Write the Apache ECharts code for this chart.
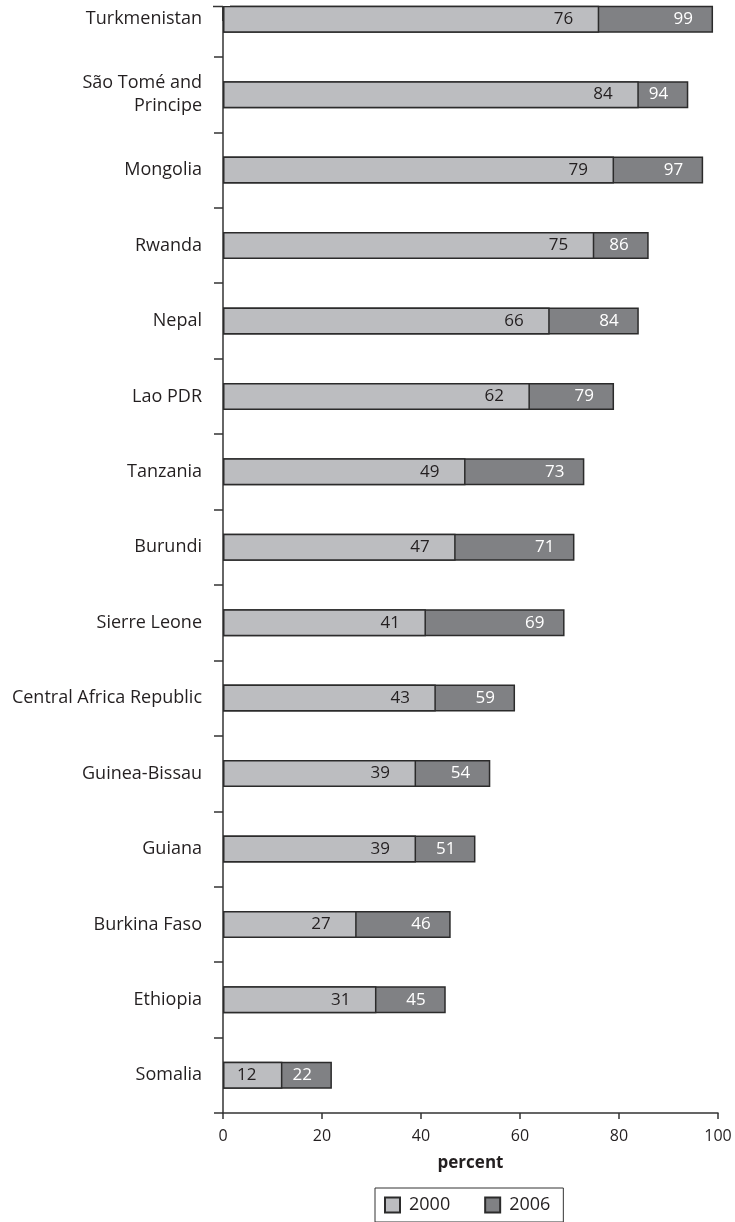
<!DOCTYPE html>
<html>
<head>
<meta charset="utf-8">
<script src="https://cdn.jsdelivr.net/npm/echarts@6/dist/echarts.min.js"></script>
<style>
html,body{margin:0;padding:0;background:#fff;overflow:hidden;width:735px;height:1222px;position:relative;}
#chart{position:absolute;left:0;top:-19px;width:735px;height:1241px;}
</style>
</head>
<body>
<div id="chart"></div>
<script>
const categories = ["Turkmenistan", "São Tomé and\nPrincipe", "Mongolia", "Rwanda", "Nepal", "Lao PDR", "Tanzania", "Burundi", "Sierre Leone", "Central Africa Republic", "Guinea-Bissau", "Guiana", "Burkina Faso", "Ethiopia", "Somalia"];
const values2000 = [76, 84, 79, 75, 66, 62, 49, 47, 41, 43, 39, 39, 27, 31, 12];
const values2006 = [99, 94, 97, 86, 84, 79, 73, 71, 69, 59, 54, 51, 46, 45, 22];
const xTicks = [0, 20, 40, 60, 80, 100];

const FONT = '"Open Sans", "DejaVu Sans", sans-serif';
const INK = '#231f20';
const chart = echarts.init(document.getElementById('chart'), null, {renderer: 'canvas'});
chart.setOption({
  animation: false,
  backgroundColor: '#ffffff',
  textStyle: {fontFamily: FONT, color: INK},
  grid: {left: 223, right: 17, top: 0.5, bottom: 109, containLabel: false},
  legend: {
    data: ['2000', '2006'],
    left: 375, top: 1207,
    orient: 'horizontal',
    itemWidth: 15, itemHeight: 15, itemGap: 34,
    borderColor: '#333', borderWidth: 1,
    padding: [8, 13, 8, 9],
    textStyle: {fontFamily: FONT, fontSize: 18, color: INK, padding: [0, 0, 0, 4]},
    icon: 'rect'
  },
  xAxis: {
    type: 'value', min: xTicks[0], max: xTicks[xTicks.length - 1], interval: 20,
    name: 'percent', nameLocation: 'middle', nameGap: 42,
    nameTextStyle: {fontFamily: FONT, fontSize: 17, fontWeight: 'bold', color: INK},
    axisLine: {show: true, lineStyle: {color: '#333', width: 1.5}},
    axisTick: {show: true, length: 6, lineStyle: {color: '#333', width: 1.5}},
    axisLabel: {fontFamily: FONT, fontSize: 16, color: INK, margin: 15},
    splitLine: {show: false}
  },
  yAxis: {
    type: 'category', data: categories, inverse: true,
    axisLine: {show: true, lineStyle: {color: '#333', width: 1.5}},
    axisTick: {show: true, length: 9, lineStyle: {color: '#333', width: 1.5}},
    axisLabel: {fontFamily: FONT, fontSize: 18, color: INK, margin: 21, lineHeight: 23, align: 'right'},
    splitLine: {show: false}
  },
  series: [
    {
      name: '2006', type: 'bar', data: values2006, barWidth: 27, barGap: '-100%', z: 2,
      itemStyle: {color: '#808184', borderColor: '#2b2b2b', borderWidth: 1.5},
      label: {show: true, position: 'insideRight', distance: 20, color: '#ffffff', fontFamily: FONT, fontSize: 17}
    },
    {
      name: '2000', type: 'bar', data: values2000, barWidth: 27, barGap: '-100%', z: 3,
      itemStyle: {color: '#bcbdc0', borderColor: '#2b2b2b', borderWidth: 1.5},
      label: {show: true, position: 'insideRight', distance: 26, color: INK, fontFamily: FONT, fontSize: 17}
    }
  ],
  graphic: [
    {type: 'rect', shape: {x: 205, y: 0, width: 25, height: 25}, style: {fill: '#ffffff'}, z: 100},
    {type: 'line', shape: {x1: 213, y1: 25.5, x2: 223, y2: 25.5}, style: {stroke: '#333', lineWidth: 1.5}, z: 101},
    {type: 'line', shape: {x1: 222.75, y1: 25, x2: 222.75, y2: 40}, style: {stroke: '#333', lineWidth: 1.5}, z: 101}
  ]
});
</script>
</body>
</html>
